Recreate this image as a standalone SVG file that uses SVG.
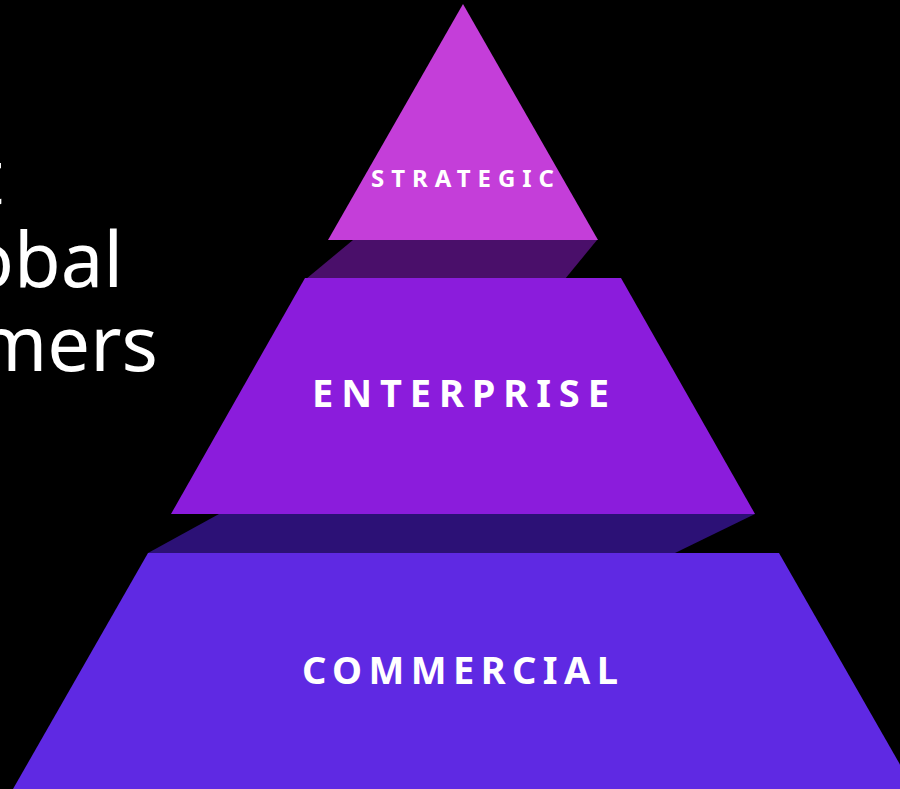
<svg xmlns="http://www.w3.org/2000/svg" width="900" height="789" viewBox="0 0 900 789">
  <style>
    .side { font-family: "Noto Sans", "Open Sans", sans-serif; font-size: 76px; fill: #ffffff; }
    .lbl { font-family: "Noto Sans", "Open Sans", sans-serif; font-weight: 700; fill: #ffffff; }
  </style>
  <rect x="0" y="0" width="900" height="789" fill="#000000"/>
  <g id="side-text">
    <text class="side" x="3" y="204" text-anchor="end">t</text>
    <text class="side" x="123" y="287" text-anchor="end">obal</text>
    <text class="side" x="158" y="371" text-anchor="end">mers</text>
  </g>
  <g id="connectors">
    <polygon id="shadow-top" points="353,240 597,240 565,279 306,279" fill="#4A0F6A"/>
    <polygon id="shadow-mid" points="219,514 755,514 675,553 148,553" fill="#2C1176"/>
  </g>
  <g id="commercial">
    <polygon points="148,553 779,553 914,789 13,789" fill="#5F29E3"/>
    <text class="lbl" x="302" y="684" font-size="38" textLength="316" lengthAdjust="spacing">COMMERCIAL</text>
  </g>
  <g id="enterprise">
    <polygon points="305,278 621,278 755,514 171,514" fill="#8B1CDC"/>
    <text class="lbl" x="312" y="407" font-size="38" textLength="297" lengthAdjust="spacing">ENTERPRISE</text>
  </g>
  <g id="strategic">
    <polygon points="463,4 598,240 328,240" fill="#C43ED9"/>
    <text class="lbl" x="371" y="187" font-size="24" textLength="183" lengthAdjust="spacing">STRATEGIC</text>
  </g>
</svg>
